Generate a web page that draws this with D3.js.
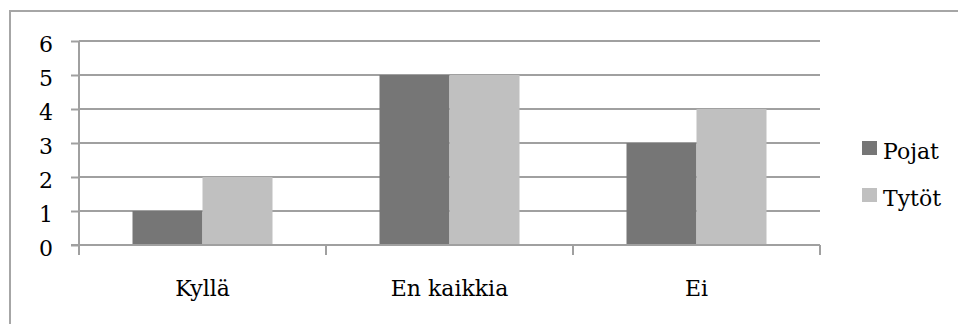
<!DOCTYPE html>
<html>
<head>
<meta charset="utf-8">
<script src="https://cdn.jsdelivr.net/npm/d3@7"></script>
<style>
  html, body { margin: 0; padding: 0; background: #fff; }
  svg { display: block; font-family: "DejaVu Serif", "Liberation Serif", serif; }
</style>
</head>
<body>
<svg id="chart" width="958" height="324"></svg>
<script>
// Vastaukset kysymykseen, jaoteltuna sukupuolen mukaan
const categories = ["Kyllä", "En kaikkia", "Ei"];
const seriesNames = ["Pojat", "Tytöt"];
const pojat = [1, 5, 3];
const tytot = [2, 5, 4];
const yTicks = [0, 1, 2, 3, 4, 5, 6];

const seriesColors = ["#767676", "#c0c0c0"];
const axisColor = "#a0a0a0";
const fontSize = "22px";

const svg = d3.select("#chart");
const W = 958, H = 324;

// Outer chart frame
svg.append("rect")
  .attr("x", 10).attr("y", 11)
  .attr("width", W + 10).attr("height", H + 10)
  .attr("fill", "none").attr("stroke", "#a6a6a6").attr("stroke-width", 2);

const plot = { left: 79, right: 820, top: 41, bottom: 245 };

const x0 = d3.scaleBand().domain(categories).range([plot.left, plot.right]).paddingInner(0).paddingOuter(0);
const groupWidth = 140;
const x1 = d3.scaleBand().domain(seriesNames)
  .range([(x0.bandwidth() - groupWidth) / 2, (x0.bandwidth() + groupWidth) / 2]);
const y = d3.scaleLinear().domain([0, 6]).range([plot.bottom, plot.top]);

// Horizontal gridlines
svg.append("g").selectAll("line").data(yTicks.filter(d => d > 0)).join("line")
  .attr("x1", plot.left).attr("x2", plot.right)
  .attr("y1", d => y(d)).attr("y2", d => y(d))
  .attr("stroke", axisColor).attr("stroke-width", 2);

// Bars
const data = categories.map((c, i) => ({ cat: c, values: [pojat[i], tytot[i]] }));
const groups = svg.append("g").selectAll("g").data(data).join("g")
  .attr("transform", d => `translate(${x0(d.cat)},0)`);
groups.selectAll("rect").data(d => d.values.map((v, j) => ({ name: seriesNames[j], v, j })))
  .join("rect")
  .attr("x", d => x1(d.name))
  .attr("width", x1.bandwidth())
  .attr("y", d => y(d.v))
  .attr("height", d => y(0) - y(d.v))
  .attr("fill", d => seriesColors[d.j]);

// Y axis
const yAxis = svg.append("g").attr("transform", `translate(${plot.left},0)`)
  .call(d3.axisLeft(y).tickValues(yTicks).tickSize(8).tickPadding(18).tickFormat(d3.format("d")));
yAxis.select(".domain").attr("stroke", axisColor).attr("stroke-width", 2)
  .attr("d", `M0,${plot.top}V${plot.bottom + 10}`);
yAxis.selectAll(".tick line").attr("stroke", axisColor).attr("stroke-width", 2);
yAxis.selectAll(".tick text").attr("fill", "#000").style("font-size", fontSize)
  .style("font-family", "DejaVu Serif, serif").attr("dy", "0.48em");

// X axis with ticks between categories
const xAxis = svg.append("g").attr("transform", `translate(0,${plot.bottom})`);
xAxis.append("line").attr("x1", plot.left - 8).attr("x2", plot.right)
  .attr("stroke", axisColor).attr("stroke-width", 2);
const boundaries = categories.map(c => x0(c) + x0.bandwidth());
xAxis.selectAll("line.sep").data(boundaries).join("line").attr("class", "sep")
  .attr("x1", d => d).attr("x2", d => d).attr("y1", 0).attr("y2", 10)
  .attr("stroke", axisColor).attr("stroke-width", 2);
xAxis.selectAll("text").data(categories).join("text")
  .attr("x", d => x0(d) + x0.bandwidth() / 2)
  .attr("y", 51)
  .attr("text-anchor", "middle")
  .style("font-size", fontSize)
  .attr("fill", "#000")
  .text(d => d);

// Legend
const legend = svg.append("g").attr("transform", "translate(862,141)");
const items = legend.selectAll("g").data(seriesNames).join("g")
  .attr("transform", (d, i) => `translate(0,${i * 47})`);
items.append("rect").attr("width", 15).attr("height", 14)
  .attr("fill", (d, i) => seriesColors[i]);
items.append("text").attr("x", 21).attr("y", 18)
  .style("font-size", fontSize).attr("fill", "#000")
  .text(d => d);
</script>
</body>
</html>
